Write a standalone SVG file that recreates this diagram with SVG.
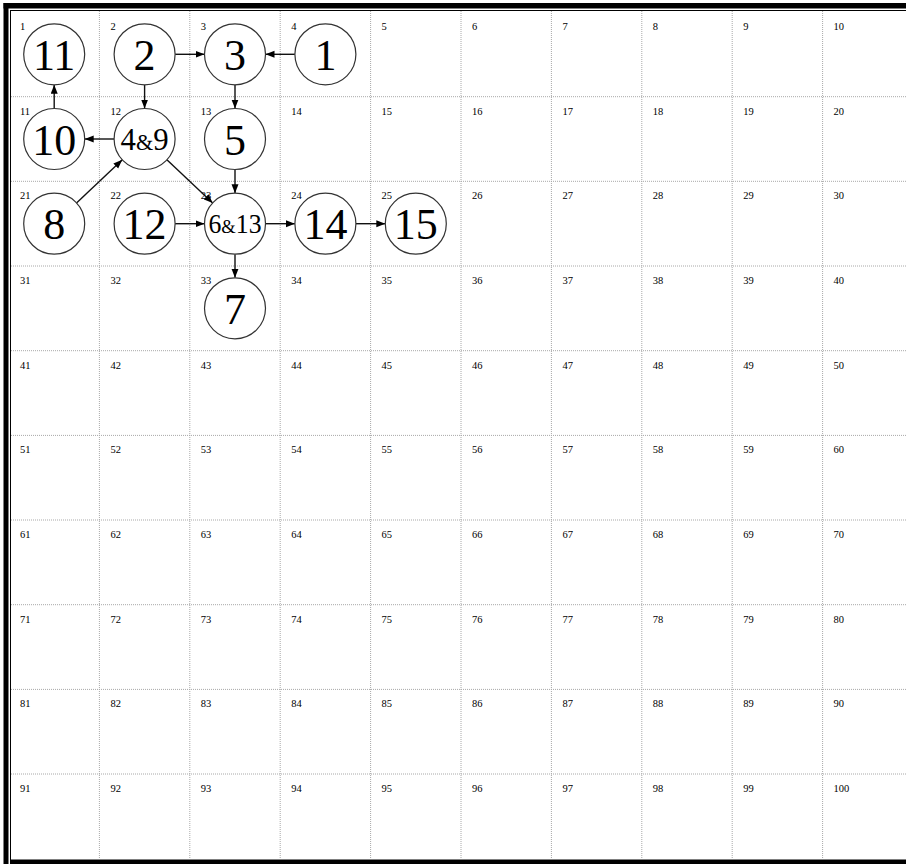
<svg xmlns="http://www.w3.org/2000/svg" width="906" height="864" viewBox="0 0 906 864">
<style>
.grid{stroke:#a8a8a8;stroke-width:1;stroke-dasharray:1,1;fill:none}
.cl{font-family:"Liberation Serif","Times New Roman",serif;font-size:10.5px;fill:#000}
.node circle{fill:#fff;stroke:#333;stroke-width:1.2}
.node text{font-family:"Liberation Serif","Times New Roman",serif;fill:#000;text-anchor:middle}
.big{font-size:44px}
.amp{font-size:0.72em}
.edge{stroke:#111;stroke-width:1.4;fill:none;marker-end:url(#ah)}
</style>
<defs>
<marker id="ah" markerUnits="userSpaceOnUse" markerWidth="10" markerHeight="8" refX="9" refY="3.5" orient="auto">
<path d="M0,0 L9,3.5 L0,7 z" fill="#000"/>
</marker>
</defs>
<rect width="906" height="864" fill="#fff"/>
<g id="frame" fill="#000">
<rect x="3.5" y="3" width="5" height="861"/>
<rect x="3.5" y="3" width="902.5" height="5.5"/>
<rect x="10" y="10" width="1" height="850"/>
<rect x="10" y="10" width="896" height="1"/>
<rect x="10" y="859.5" width="896" height="4.5"/>
</g>
<g id="grid" class="grid">
<path d="M99.4 11V859M189.8 11V859M280.2 11V859M370.6 11V859M461 11V859M551.4 11V859M641.8 11V859M732.2 11V859M822.6 11V859"/>
<path d="M11 96.7H906M11 181.3H906M11 266H906M11 350.7H906M11 435.4H906M11 520H906M11 604.7H906M11 689.4H906M11 774H906"/>
</g>
<g id="cell-labels" class="cl">
<text x="20" y="30">1</text><text x="110.4" y="30">2</text><text x="200.8" y="30">3</text><text x="291.2" y="30">4</text><text x="381.6" y="30">5</text><text x="472" y="30">6</text><text x="562.4" y="30">7</text><text x="652.8" y="30">8</text><text x="743.2" y="30">9</text><text x="833.6" y="30">10</text>
<text x="20" y="114.7">11</text><text x="110.4" y="114.7">12</text><text x="200.8" y="114.7">13</text><text x="291.2" y="114.7">14</text><text x="381.6" y="114.7">15</text><text x="472" y="114.7">16</text><text x="562.4" y="114.7">17</text><text x="652.8" y="114.7">18</text><text x="743.2" y="114.7">19</text><text x="833.6" y="114.7">20</text>
<text x="20" y="199.3">21</text><text x="110.4" y="199.3">22</text><text x="200.8" y="199.3">23</text><text x="291.2" y="199.3">24</text><text x="381.6" y="199.3">25</text><text x="472" y="199.3">26</text><text x="562.4" y="199.3">27</text><text x="652.8" y="199.3">28</text><text x="743.2" y="199.3">29</text><text x="833.6" y="199.3">30</text>
<text x="20" y="284">31</text><text x="110.4" y="284">32</text><text x="200.8" y="284">33</text><text x="291.2" y="284">34</text><text x="381.6" y="284">35</text><text x="472" y="284">36</text><text x="562.4" y="284">37</text><text x="652.8" y="284">38</text><text x="743.2" y="284">39</text><text x="833.6" y="284">40</text>
<text x="20" y="368.7">41</text><text x="110.4" y="368.7">42</text><text x="200.8" y="368.7">43</text><text x="291.2" y="368.7">44</text><text x="381.6" y="368.7">45</text><text x="472" y="368.7">46</text><text x="562.4" y="368.7">47</text><text x="652.8" y="368.7">48</text><text x="743.2" y="368.7">49</text><text x="833.6" y="368.7">50</text>
<text x="20" y="453.4">51</text><text x="110.4" y="453.4">52</text><text x="200.8" y="453.4">53</text><text x="291.2" y="453.4">54</text><text x="381.6" y="453.4">55</text><text x="472" y="453.4">56</text><text x="562.4" y="453.4">57</text><text x="652.8" y="453.4">58</text><text x="743.2" y="453.4">59</text><text x="833.6" y="453.4">60</text>
<text x="20" y="538">61</text><text x="110.4" y="538">62</text><text x="200.8" y="538">63</text><text x="291.2" y="538">64</text><text x="381.6" y="538">65</text><text x="472" y="538">66</text><text x="562.4" y="538">67</text><text x="652.8" y="538">68</text><text x="743.2" y="538">69</text><text x="833.6" y="538">70</text>
<text x="20" y="622.7">71</text><text x="110.4" y="622.7">72</text><text x="200.8" y="622.7">73</text><text x="291.2" y="622.7">74</text><text x="381.6" y="622.7">75</text><text x="472" y="622.7">76</text><text x="562.4" y="622.7">77</text><text x="652.8" y="622.7">78</text><text x="743.2" y="622.7">79</text><text x="833.6" y="622.7">80</text>
<text x="20" y="707.4">81</text><text x="110.4" y="707.4">82</text><text x="200.8" y="707.4">83</text><text x="291.2" y="707.4">84</text><text x="381.6" y="707.4">85</text><text x="472" y="707.4">86</text><text x="562.4" y="707.4">87</text><text x="652.8" y="707.4">88</text><text x="743.2" y="707.4">89</text><text x="833.6" y="707.4">90</text>
<text x="20" y="792">91</text><text x="110.4" y="792">92</text><text x="200.8" y="792">93</text><text x="291.2" y="792">94</text><text x="381.6" y="792">95</text><text x="472" y="792">96</text><text x="562.4" y="792">97</text><text x="652.8" y="792">98</text><text x="743.2" y="792">99</text><text x="833.6" y="792">100</text>
</g>
<g id="connectors">
<line class="edge" x1="175.1" y1="54.3" x2="204.5" y2="54.3"/>
<line class="edge" x1="294.9" y1="54.3" x2="265.5" y2="54.3"/>
<line class="edge" x1="144.6" y1="84.8" x2="144.6" y2="108.5"/>
<line class="edge" x1="235" y1="84.8" x2="235" y2="108.5"/>
<line class="edge" x1="54.2" y1="108.5" x2="54.2" y2="84.8"/>
<line class="edge" x1="114.1" y1="139" x2="84.7" y2="139"/>
<line class="edge" x1="76.5" y1="202.9" x2="122.3" y2="159.8"/>
<line class="edge" x1="166.9" y1="159.8" x2="212.7" y2="202.9"/>
<line class="edge" x1="235" y1="169.5" x2="235" y2="193.2"/>
<line class="edge" x1="175.1" y1="223.7" x2="204.5" y2="223.7"/>
<line class="edge" x1="265.5" y1="223.7" x2="294.9" y2="223.7"/>
<line class="edge" x1="355.9" y1="223.7" x2="385.3" y2="223.7"/>
<line class="edge" x1="235" y1="254.2" x2="235" y2="277.8"/>
</g>
<g id="node-11" class="node"><circle cx="54.2" cy="54.3" r="30.5"/><text class="big" x="54.2" y="70">11</text></g>
<g id="node-2" class="node"><circle cx="144.6" cy="54.3" r="30.5"/><text class="big" x="144.6" y="70">2</text></g>
<g id="node-3" class="node"><circle cx="235" cy="54.3" r="30.5"/><text class="big" x="235" y="70">3</text></g>
<g id="node-1" class="node"><circle cx="325.4" cy="54.3" r="30.5"/><text class="big" x="325.4" y="70">1</text></g>
<g id="node-10" class="node"><circle cx="54.2" cy="139" r="30.5"/><text class="big" x="54.2" y="154.7">10</text></g>
<g id="node-4-9" class="node"><circle cx="144.6" cy="139" r="30.5"/><text x="144.6" y="150" font-size="31" textLength="48" lengthAdjust="spacingAndGlyphs">4<tspan class="amp">&amp;</tspan>9</text></g>
<g id="node-5" class="node"><circle cx="235" cy="139" r="30.5"/><text class="big" x="235" y="154.7">5</text></g>
<g id="node-8" class="node"><circle cx="54.2" cy="223.7" r="30.5"/><text class="big" x="54.2" y="239.4">8</text></g>
<g id="node-12" class="node"><circle cx="144.6" cy="223.7" r="30.5"/><text class="big" x="144.6" y="239.4">12</text></g>
<g id="node-6-13" class="node"><circle cx="235" cy="223.7" r="30.5"/><text x="235" y="233.3" font-size="27" textLength="53" lengthAdjust="spacingAndGlyphs">6<tspan class="amp">&amp;</tspan>13</text></g>
<g id="node-14" class="node"><circle cx="325.4" cy="223.7" r="30.5"/><text class="big" x="325.4" y="239.4">14</text></g>
<g id="node-15" class="node"><circle cx="415.8" cy="223.7" r="30.5"/><text class="big" x="415.8" y="239.4">15</text></g>
<g id="node-7" class="node"><circle cx="235" cy="308.3" r="30.5"/><text class="big" x="235" y="324">7</text></g>
</svg>
